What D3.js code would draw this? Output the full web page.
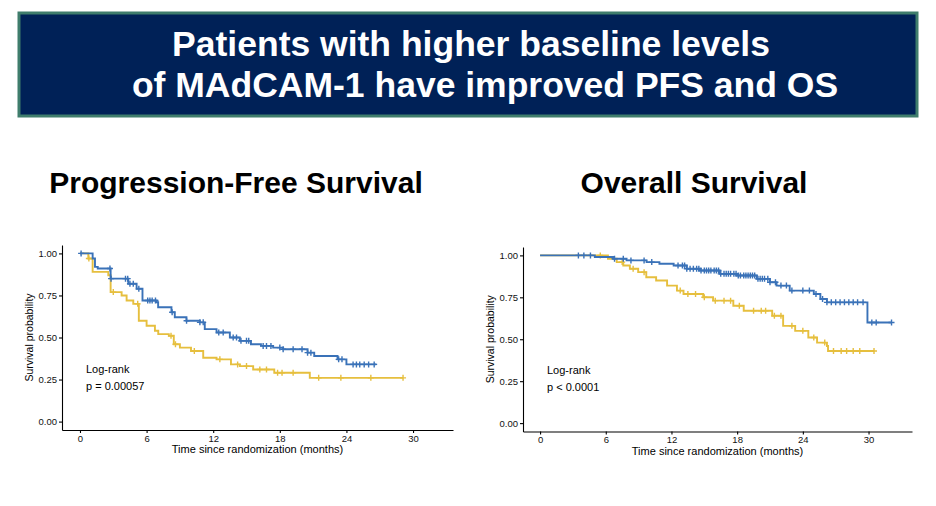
<!DOCTYPE html>
<html>
<head>
<meta charset="utf-8">
<script src="https://cdn.jsdelivr.net/npm/d3@7"></script>
<style>
  body { margin: 0; background: #fff; }
  text { font-family: "Liberation Sans", Arial, sans-serif; }
</style>
</head>
<body>
<script>
// survival steps: [month, survival after the drop]
var pfsHigh = [[0,1.00],[1.14,0.97],[1.35,0.92],[1.6,0.91],[2.76,0.85],[4.35,0.82],[5.1,0.79],[5.63,0.72],[6.9,0.71],[7.04,0.68],[8.24,0.65],[8.54,0.62],[9.59,0.60],[10.8,0.59],[11.24,0.55],[12.3,0.53],[13.5,0.50],[14.4,0.48],[15.4,0.46],[16.3,0.45],[17.4,0.44],[18.3,0.43],[20.5,0.41],[21.1,0.39],[23.2,0.37],[24.0,0.34],[26.7,0.34]];
var pfsLow = [[0,1.00],[0.75,0.97],[1.14,0.89],[2.55,0.87],[2.76,0.77],[3.75,0.75],[4.2,0.72],[4.8,0.70],[5.3,0.60],[6.0,0.57],[6.75,0.54],[7.05,0.52],[8.0,0.51],[8.45,0.46],[9.0,0.44],[10.0,0.42],[11.1,0.38],[12.3,0.37],[13.6,0.34],[14.4,0.33],[15.6,0.31],[17.5,0.29],[20.7,0.26],[29.1,0.26]];
var osHigh = [[0,1.00],[5.0,0.99],[6.68,0.98],[7.9,0.97],[9.73,0.96],[10.9,0.95],[12.2,0.94],[13.4,0.92],[14.6,0.91],[16.4,0.89],[18.0,0.88],[19.8,0.86],[21.0,0.84],[21.6,0.82],[22.8,0.79],[25.0,0.77],[25.6,0.74],[26.2,0.72],[29.9,0.60],[32.1,0.60]];
var osLow = [[0,1.00],[6.2,0.98],[7.0,0.96],[7.6,0.94],[8.2,0.92],[8.96,0.90],[9.7,0.87],[10.6,0.85],[11.6,0.82],[12.5,0.79],[13.1,0.77],[14.9,0.75],[15.8,0.73],[17.65,0.70],[18.6,0.67],[21.2,0.64],[22.2,0.58],[23.3,0.55],[24.5,0.51],[25.3,0.48],[26.2,0.46],[26.3,0.43],[30.5,0.43]];

// censoring times (months)
var pfsHighCens = [0.1,2.7,2.8,4.1,4.3,4.5,4.8,5.3,6.1,6.3,6.5,6.8,8.3,9.6,10.8,11.1,12.5,12.9,13.8,14.1,14.5,15.0,15.2,16.5,16.8,17.2,18.0,18.3,19.2,20.0,20.5,20.8,23.3,23.6,24.6,24.9,25.2,25.6,26.0,26.5];
var pfsLowCens = [0.8,3.0,5.2,8.2,8.6,10.3,12.6,14.2,15.0,16.2,16.8,17.8,18.2,19.2,21.5,23.5,26.2,29.1];
var osHighCens = [3.5,4.0,4.6,6.8,7.6,8.3,9.5,10.2,12.6,13.0,13.2,13.4,13.7,14.0,14.3,14.5,14.7,15.0,15.2,15.4,15.6,15.9,16.1,16.3,16.5,16.8,17.0,17.2,17.4,17.7,17.9,18.1,18.3,18.6,18.8,19.0,19.2,19.4,19.6,19.9,20.1,20.3,20.5,20.8,21.0,21.5,22.0,22.5,23.0,24.0,24.6,25.2,25.8,26.2,26.6,27.0,27.4,27.8,28.2,28.6,29.0,29.5,30.3,30.7,32.1];
var osLowCens = [5.5,7.5,8.5,9.5,12.8,13.5,14.2,15.0,16.0,16.8,17.4,18.2,19.5,20.2,20.6,21.4,22.0,23.0,24.0,25.0,26.0,26.8,27.5,28.0,28.6,29.2,30.5];

var xTicks = [0, 6, 12, 18, 24, 30];
var yTicks = [0, 0.25, 0.5, 0.75, 1];

var blue = "#3a72b8", yellow = "#e6bf3e";

var svg = d3.select("body").append("svg")
    .attr("width", 936).attr("height", 506);

// header box
svg.append("rect")
  .attr("x", 19).attr("y", 13).attr("width", 898).attr("height", 103)
  .attr("fill", "#002157").attr("stroke", "#3f7d6c").attr("stroke-width", 3);
svg.append("text").attr("x", 471).attr("y", 56).attr("text-anchor", "middle")
  .attr("fill", "#fff").attr("font-size", 35.5).attr("font-weight", "bold")
  .text("Patients with higher baseline levels");
svg.append("text").attr("x", 485).attr("y", 97).attr("text-anchor", "middle")
  .attr("fill", "#fff").attr("font-size", 35.5).attr("font-weight", "bold")
  .text("of MAdCAM-1 have improved PFS and OS");

function stepAt(steps, t) {
  var s = steps[0][1];
  steps.forEach(function(d) { if (d[0] <= t) s = d[1]; });
  return s;
}

function drawKM(opt) {
  var g = svg.append("g");
  var x = d3.scaleLinear().domain(opt.xDom).range(opt.xRange);
  var y = d3.scaleLinear().domain([-0.05, 1.05]).range(opt.yRange);

  g.append("text").attr("x", opt.titleX).attr("y", 193).attr("text-anchor", "middle")
    .attr("font-size", 30).attr("font-weight", "bold").attr("fill", "#000")
    .text(opt.title);

  var xa = g.append("g").attr("transform", "translate(0," + opt.yRange[0] + ")")
    .call(d3.axisBottom(x).tickValues(xTicks).tickSize(3).tickSizeOuter(0).tickPadding(2));
  var ya = g.append("g").attr("transform", "translate(" + opt.xRange[0] + ",0)")
    .call(d3.axisLeft(y).tickValues(yTicks).tickFormat(d3.format(".2f")).tickSize(3).tickSizeOuter(0).tickPadding(2));
  [xa, ya].forEach(function(a) {
    a.selectAll("text").attr("font-size", 9.5).attr("fill", "#111")
      .attr("font-family", "Liberation Sans, Arial, sans-serif");
    a.selectAll("line, path").attr("stroke", "#000").attr("stroke-width", 1.1);
  });

  g.append("text")
    .attr("x", (opt.xRange[0] + opt.xRange[1]) / 2).attr("y", opt.yRange[0] + 23)
    .attr("text-anchor", "middle").attr("font-size", 11).text("Time since randomization (months)");
  g.append("text")
    .attr("transform", "translate(" + (opt.xRange[0] - 29) + "," + ((opt.yRange[0] + opt.yRange[1]) / 2) + ") rotate(-90)")
    .attr("text-anchor", "middle").attr("font-size", 10.5).text("Survival probability");

  g.append("text").attr("x", opt.xRange[0] + 24).attr("y", y(0.29))
    .attr("font-size", 11).text("Log-rank");
  g.append("text").attr("x", opt.xRange[0] + 24).attr("y", y(0.19))
    .attr("font-size", 11).text(opt.p);

  var line = d3.line().curve(d3.curveStepAfter)
    .x(function(d) { return x(d[0]); })
    .y(function(d) { return y(d[1]); });

  [[opt.low, opt.lowCens, yellow], [opt.high, opt.highCens, blue]].forEach(function(s) {
    g.append("path").datum(s[0])
      .attr("fill", "none").attr("stroke", s[2]).attr("stroke-width", 1.9)
      .attr("d", line);
    g.selectAll(null).data(s[1]).enter().append("path")
      .attr("transform", function(t) { return "translate(" + x(t) + "," + y(stepAt(s[0], t)) + ")"; })
      .attr("d", "M-3,0H3M0,-3V3")
      .attr("stroke", s[2]).attr("stroke-width", 1.4).attr("fill", "none");
  });
}

drawKM({
  title: "Progression-Free Survival", titleX: 236,
  xDom: [-1.62, 33.6], xRange: [62, 453], yRange: [430, 245],
  high: pfsHigh, low: pfsLow, highCens: pfsHighCens, lowCens: pfsLowCens,
  p: "p = 0.00057"
});
drawKM({
  title: "Overall Survival", titleX: 694,
  xDom: [-1.56, 33.97], xRange: [523, 912], yRange: [431.5, 247],
  high: osHigh, low: osLow, highCens: osHighCens, lowCens: osLowCens,
  p: "p < 0.0001"
});
</script>
</body>
</html>
